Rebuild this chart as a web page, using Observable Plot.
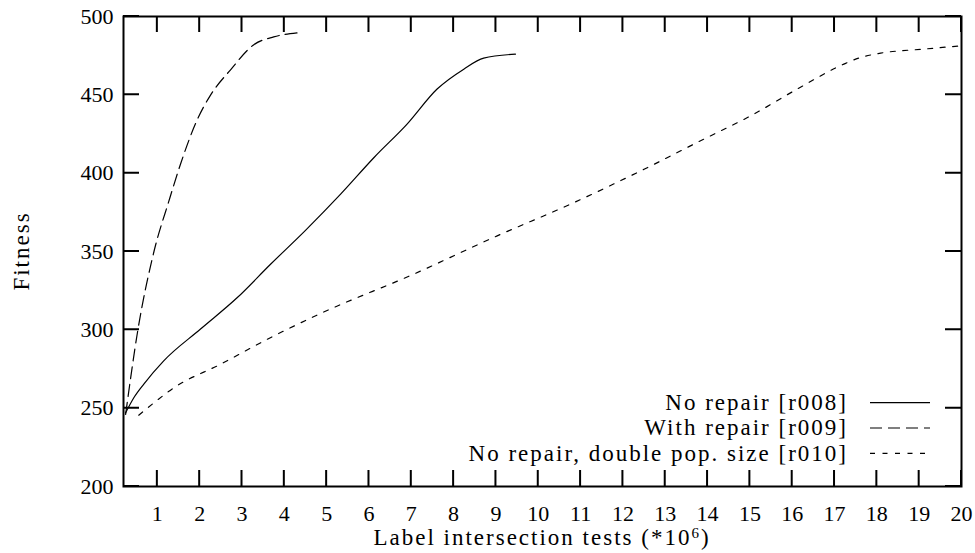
<!DOCTYPE html>
<html>
<head>
<meta charset="utf-8">
<script src="https://cdn.jsdelivr.net/npm/d3@7"></script>
<script src="https://cdn.jsdelivr.net/npm/@observablehq/plot@0.6"></script>
<style>
  html, body { margin: 0; padding: 0; background: #fff; }
</style>
</head>
<body>
<div id="chart"></div>
<script>
// Tick values
const xTicks = [1, 2, 3, 4, 5, 6, 7, 8, 9, 10, 11, 12, 13, 14, 15, 16, 17, 18, 19, 20];
const yTicks = [200, 250, 300, 350, 400, 450, 500];

// Fitness against label intersection tests (millions)
const r008 = [ // no repair
  [0.25, 247], [0.44, 256.5], [0.68, 265.4], [1.15, 280.2], [2.02, 300.5], [2.89, 320.6],
  [3.68, 342.0], [4.5, 363.5], [5.33, 386.6], [6.12, 410.0], [6.9, 431.3], [7.61, 453.7],
  [8.24, 466.4], [8.71, 473.4], [9.46, 476.0]
];
const r009 = [ // with repair
  [0.25, 246], [0.54, 300], [0.92, 350], [1.27, 382], [1.55, 406], [1.94, 434],
  [2.26, 450], [2.73, 466], [3.28, 482], [3.75, 487], [4.31, 489.6]
];
const r010 = [ // no repair, double population size
  [0.56, 245.5], [0.9, 253], [1.39, 263], [2.49, 278], [3.6, 294], [4.82, 310],
  [7.06, 335.6], [9.03, 360], [10.76, 380.2], [12.5, 402.5], [13.91, 421.7],
  [15.02, 436.6], [16.12, 453.7], [17.22, 469.6], [17.61, 473.8], [18.09, 476.6],
  [19.11, 479.2], [20.0, 481.3]
];

const seriesNames = ["No repair [r008]", "With repair [r009]", "No repair, double pop. size [r010]"];
const yLabel = "Fitness";
const xLabelText = "Label intersection tests (*10";
const xLabelExp = "6";

// Layout
const W = 975, H = 553;
const mL = 123, mR = 14, mT = 16, mB = 67;
const frameW = W - mL - mR, frameH = H - mT - mB;
const xDomain = [0.2, 20], yDomain = [200, 500];
const tickLen = 16;
const font = '"Liberation Serif", "DejaVu Serif", serif';
const fs = 22;      // tick labels
const fsText = 23;  // titles and key
const spacing = "2px";
const dashes = [null, "12,6", "5,7.5"];
const seriesData = [r008, r009, r010];

const lineMarks = seriesData.map((pts, i) =>
  Plot.line(pts, {
    x: d => d[0], y: d => d[1],
    stroke: "black", strokeWidth: 1.2,
    strokeDasharray: dashes[i],
    curve: "monotone-x"
  })
);

const plot = Plot.plot({
  width: W, height: H,
  marginLeft: mL, marginRight: mR, marginTop: mT, marginBottom: mB,
  x: { domain: xDomain },
  y: { domain: yDomain },
  style: { fontFamily: font, fontSize: fs + "px", color: "black", background: "white" },
  marks: [
    Plot.frame({ fill: "none", stroke: "black", strokeWidth: 2 }),
    Plot.axisX({ ticks: xTicks, tickSize: 0, tickPadding: 19, label: null, fontSize: fs }),
    Plot.axisY({ ticks: yTicks, tickSize: 0, tickPadding: 10, label: null, fontSize: fs }),
    ...lineMarks
  ]
});

document.getElementById("chart").appendChild(plot);

const svg = d3.select(plot);

// inward tick marks on all four sides, placed with the plot's own scales
try {
  const xs = plot.scale("x"), ys = plot.scale("y");
  const toPx = (s, dom, rng) =>
    (s && typeof s.apply === "function") ? (v => s.apply(v)) : d3.scaleLinear(dom, rng);
  const px = toPx(xs, xDomain, [mL, W - mR]);
  const py = toPx(ys, yDomain, [H - mB, mT]);
  const fLeft = px(xDomain[0]), fRight = px(xDomain[1]);
  const fBottom = py(yDomain[0]), fTop = py(yDomain[1]);
  let path = "";
  xTicks.forEach(v => {
    const x = px(v);
    path += `M${x},${fBottom}V${fBottom - tickLen}M${x},${fTop}V${fTop + tickLen}`;
  });
  yTicks.forEach(v => {
    const y = py(v);
    path += `M${fLeft},${y}H${fLeft + tickLen}M${fRight},${y}H${fRight - tickLen}`;
  });
  svg.append("path")
    .attr("d", path)
    .attr("fill", "none")
    .attr("stroke", "black")
    .attr("stroke-width", 2);
} catch (e) {
  console.error(e);
}

// y-axis title
svg.append("text")
  .attr("transform", `translate(22,${mT + frameH / 2}) rotate(-90)`)
  .attr("text-anchor", "middle")
  .attr("dy", "0.32em")
  .attr("font-family", font)
  .attr("font-size", fsText)
  .attr("letter-spacing", spacing)
  .attr("fill", "black")
  .text(yLabel);

// x-axis title with superscript exponent
const xt = svg.append("text")
  .attr("x", mL + frameW / 2)
  .attr("y", 545)
  .attr("text-anchor", "middle")
  .attr("font-family", font)
  .attr("font-size", fsText)
  .attr("letter-spacing", spacing)
  .attr("fill", "black");
xt.append("tspan").text(xLabelText);
xt.append("tspan").attr("font-size", 15).attr("dy", -7).text(xLabelExp);
xt.append("tspan").attr("dy", 7).text(")");

// key, lower right inside the frame
const keyRight = W - mR;
const lg = svg.append("g")
  .attr("font-family", font)
  .attr("font-size", fsText)
  .attr("letter-spacing", spacing);
seriesNames.forEach((name, i) => {
  const y = 402.7 + i * 25.3;
  lg.append("text")
    .attr("x", keyRight - 113).attr("y", y).attr("dy", "0.32em")
    .attr("text-anchor", "end").attr("fill", "black")
    .text(name);
  lg.append("line")
    .attr("x1", keyRight - 91).attr("x2", keyRight - 31)
    .attr("y1", y).attr("y2", y)
    .attr("stroke", "black").attr("stroke-width", 1.2)
    .attr("stroke-dasharray", dashes[i]);
});
</script>
</body>
</html>
